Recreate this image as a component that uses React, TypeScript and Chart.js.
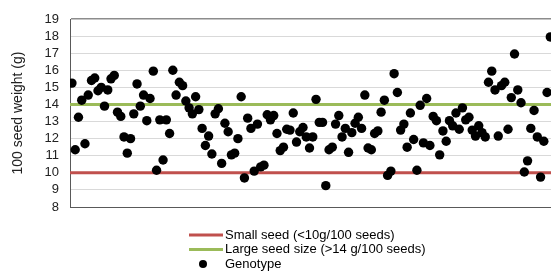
import React, { useEffect, useRef } from "react";
import { Chart, registerables } from "chart.js";

Chart.register(...registerables);

// 100 seed weight (g) per genotype, in plotted order
const genotypeWeights: number[] = [
  15.25, 11.35, 13.25, 14.25, 11.7, 14.55, 15.4, 15.55, 14.8, 15.0,
  13.9, 14.85, 15.5, 15.7, 13.55, 13.3, 12.1, 11.15, 12.0, 13.45,
  15.2, 13.9, 14.55, 13.05, 14.35, 15.95, 10.15, 13.1, 10.75, 13.1,
  12.3, 16.0, 14.55, 15.3, 15.1, 14.2, 13.8, 13.45, 14.45, 13.7,
  12.6, 11.6, 12.15, 11.1, 13.45, 13.75, 10.55, 12.9, 12.4, 11.05,
  11.15, 12.0, 14.45, 9.7, 13.2, 12.6, 10.1, 12.85, 10.35, 10.45,
  13.4, 13.1, 13.35, 12.3, 11.3, 11.5, 12.55, 12.5, 13.5, 11.8,
  12.4, 12.65, 12.1, 11.45, 12.1, 14.3, 12.95, 12.95, 9.25, 11.35,
  11.5, 12.85, 13.35, 12.1, 12.6, 11.2, 12.35, 12.9, 13.25, 12.6,
  14.55, 11.45, 11.35, 12.3, 12.45, 13.55, 14.25, 9.85, 10.1, 15.8,
  14.7, 12.5, 12.85, 11.5, 13.5, 11.95, 10.15, 13.95, 11.75, 14.35,
  11.6, 13.3, 13.05, 11.05, 12.45, 11.85, 13.05, 12.75, 13.5, 12.55,
  13.8, 13.1, 13.25, 12.5, 12.15, 12.75, 12.35, 12.1, 15.3, 15.95,
  14.85, 12.15, 15.1, 15.3, 12.55, 14.4, 16.95, 14.85, 14.1, 10.05,
  10.7, 12.6, 13.65, 12.1, 9.75, 11.85, 14.7, 17.95,
];
const genotypeIndex: number[] = genotypeWeights.map((_, i) => i + 1);

const SMALL_SEED_LIMIT = 10;
const LARGE_SEED_LIMIT = 14;

const X_MIN = 0.4;
const X_MAX = 148.3;
const Y_MIN = 8;
const Y_MAX = 19;

const seriesLabels = [
  "Small seed (<10g/100 seeds)",
  "Large seed size (>14 g/100 seeds)",
  "Genotype",
];
const yAxisTitle = "100 seed weight (g)";

const FONT = '"Liberation Sans", Arial, sans-serif';
const RED = "#C0504D";
const GREEN = "#9BBB59";

const bottomLegend = {
  id: "bottomLegend",
  afterDraw(chart: any) {
    const ctx = chart.ctx as CanvasRenderingContext2D;
    const base = chart.chartArea.bottom;
    ctx.save();
    ctx.font = `13px ${FONT}`;
    ctx.textBaseline = "middle";
    ctx.textAlign = "left";
    chart.data.datasets.forEach((ds: any, i: number) => {
      const y = base + 28 + i * 14.5;
      if (ds.type === "line") {
        ctx.strokeStyle = ds.borderColor;
        ctx.lineWidth = 3;
        ctx.beginPath();
        ctx.moveTo(189, y);
        ctx.lineTo(223, y);
        ctx.stroke();
      } else {
        ctx.fillStyle = ds.backgroundColor;
        ctx.beginPath();
        ctx.arc(203, y, 4, 0, Math.PI * 2);
        ctx.fill();
      }
      ctx.fillStyle = "#000";
      ctx.fillText(ds.label, 225, y);
    });
    ctx.restore();
  },
};

export default function App() {
  const canvasRef = useRef<HTMLCanvasElement | null>(null);

  useEffect(() => {
    const canvas = canvasRef.current;
    if (!canvas) return;
    const chart = new Chart(canvas, {
      type: "scatter",
      data: {
        datasets: [
          {
            type: "line",
            label: seriesLabels[0],
            data: [
              { x: X_MIN, y: SMALL_SEED_LIMIT },
              { x: X_MAX, y: SMALL_SEED_LIMIT },
            ],
            borderColor: RED,
            backgroundColor: RED,
            borderWidth: 3,
            pointRadius: 0,
            order: 1,
          },
          {
            type: "line",
            label: seriesLabels[1],
            data: [
              { x: X_MIN, y: LARGE_SEED_LIMIT },
              { x: X_MAX, y: LARGE_SEED_LIMIT },
            ],
            borderColor: GREEN,
            backgroundColor: GREEN,
            borderWidth: 3,
            pointRadius: 0,
            order: 1,
          },
          {
            type: "scatter",
            label: seriesLabels[2],
            data: genotypeIndex.map((x, i) => ({ x, y: genotypeWeights[i] })),
            backgroundColor: "#000",
            borderColor: "#000",
            borderWidth: 0,
            pointRadius: 4.7,
            order: 0,
          },
        ] as any,
      },
      options: {
        animation: false,
        responsive: false,
        maintainAspectRatio: false,
        layout: { padding: { top: 19, right: 0, bottom: 64, left: 0 } },
        plugins: {
          legend: { display: false },
          tooltip: { enabled: false },
        },
        scales: {
          x: {
            type: "linear",
            min: X_MIN,
            max: X_MAX,
            ticks: { display: false },
            grid: { drawOnChartArea: false, drawTicks: false },
            border: { display: true, color: "#595959", width: 1 },
            afterFit: (scale: any) => {
              scale.height = 0;
            },
          },
          y: {
            type: "linear",
            min: Y_MIN,
            max: Y_MAX,
            ticks: {
              stepSize: 1,
              autoSkip: false,
              padding: 11,
              color: "#222",
              font: { family: FONT, size: 13 },
            },
            grid: {
              drawTicks: false,
              color: (c: any) => (c.tick && c.tick.value === Y_MAX ? "#8c8c8c" : "#d9d9d9"),
              lineWidth: (c: any) => (c.tick && c.tick.value === Y_MAX ? 1.5 : 1),
            },
            border: { display: true, color: "#595959", width: 1 },
            title: {
              display: true,
              text: yAxisTitle,
              color: "#222",
              font: { family: FONT, size: 14 },
              padding: { top: 10, bottom: 0 },
            },
            afterFit: (scale: any) => {
              scale.width = 70;
            },
          },
        },
      },
      plugins: [bottomLegend],
    });
    return () => chart.destroy();
  }, []);

  return (
    <div
      style={{
        position: "fixed",
        left: 0,
        top: 0,
        width: 551,
        height: 271,
        overflow: "hidden",
        background: "#fff",
      }}
    >
      <canvas ref={canvasRef} width={556} height={271} style={{ display: "block" }} />
    </div>
  );
}
